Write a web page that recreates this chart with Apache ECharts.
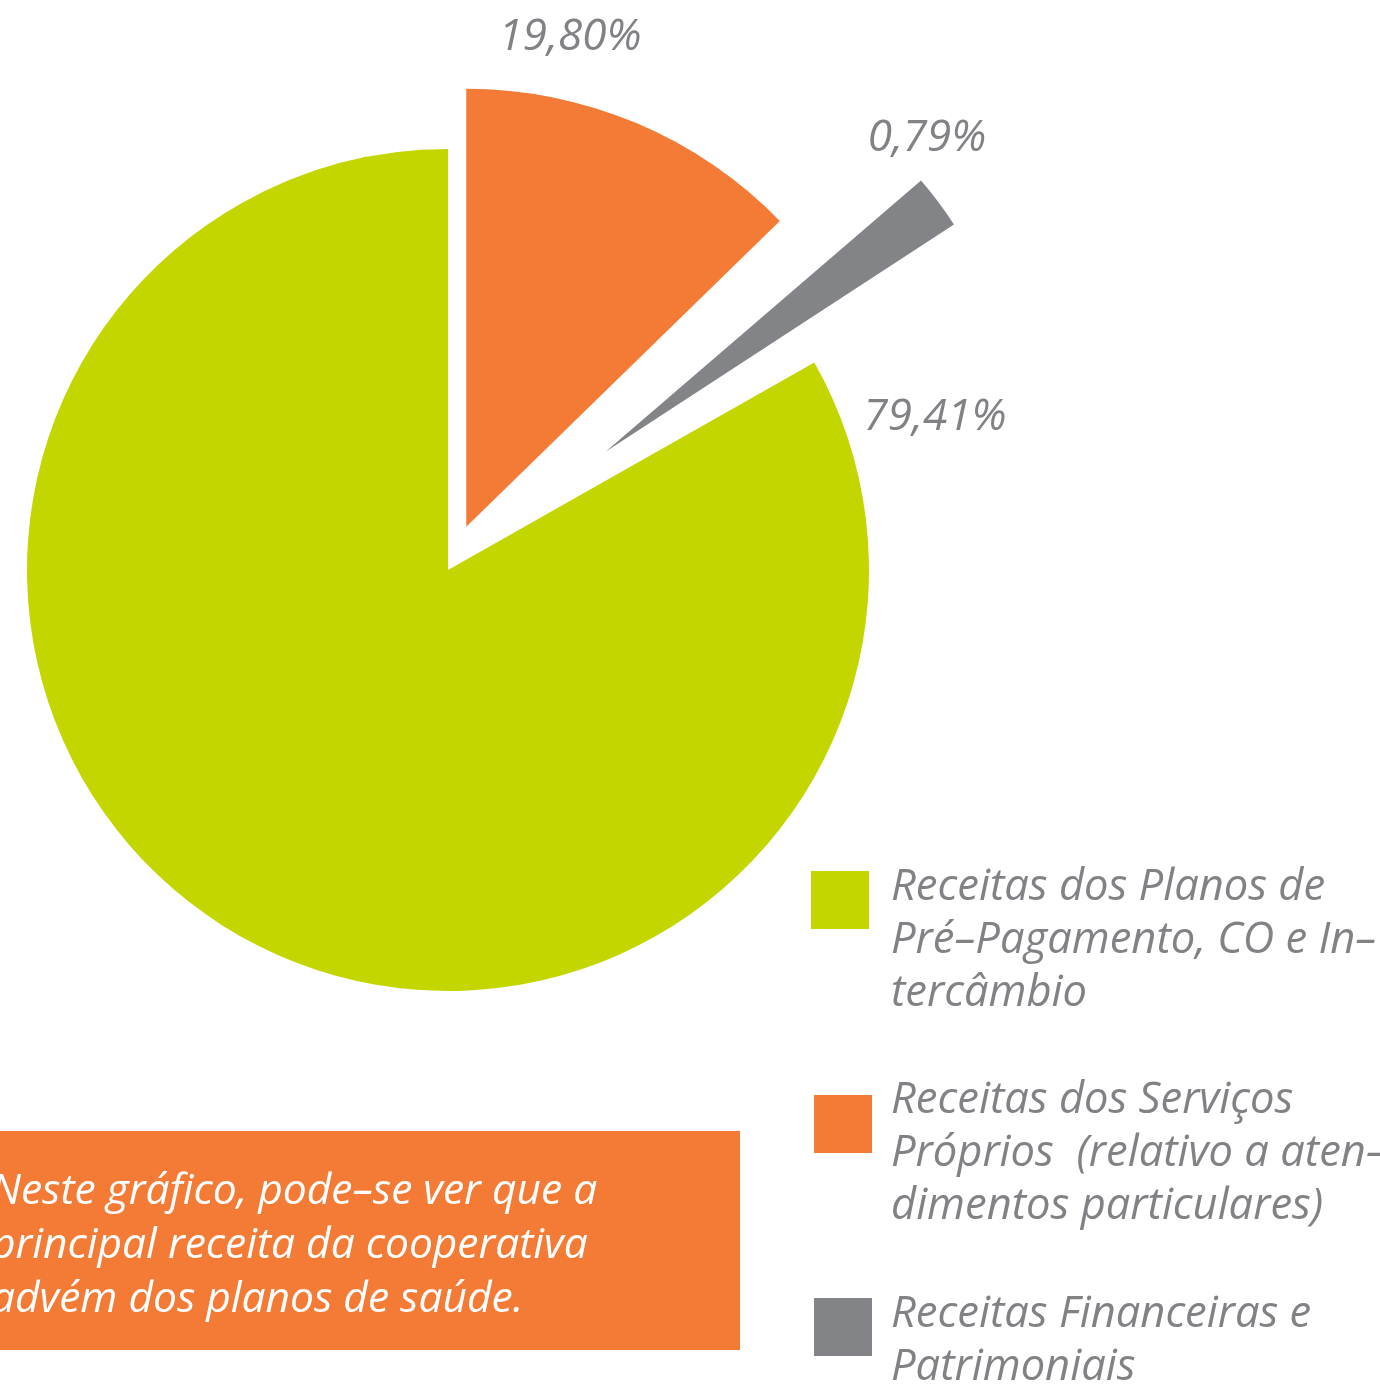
<!DOCTYPE html>
<html>
<head>
<meta charset="utf-8">
<script src="https://cdn.jsdelivr.net/npm/echarts@6/dist/echarts.min.js"></script>
<style>
html, body { margin: 0; padding: 0; background: #fff; }
#chart { width: 1380px; height: 1385px; }
</style>
</head>
<body>
<div id="chart"></div>
<script>
var categories = [
  'Receitas dos Planos de Pré–Pagamento, CO e Intercâmbio',
  'Receitas dos Serviços Próprios (relativo a atendimentos particulares)',
  'Receitas Financeiras e Patrimoniais'
];
// legend text broken the same way as in the picture
var legendLines = [
  'Receitas dos Planos de\nPré–Pagamento, CO e In–\ntercâmbio',
  'Receitas dos Serviços\nPróprios  (relativo a aten–\ndimentos particulares)',
  'Receitas Financeiras e\nPatrimoniais'
];
var pctLabels = ['79,41%', '19,80%', '0,79%'];
// share of the circle each wedge takes in the drawing (wedges are not drawn to the printed %)
var drawnShare = [83.2, 12.7, 2.1];
var gapShare = 1.0;   // blank wedge each side of the small slice
var colors = ['#c4d600', '#f47b35', '#838488'];
var note = 'Neste gráfico, pode–se ver que a\nprincipal receita da cooperativa\nadvém dos planos de saúde.';

var myChart = echarts.init(document.getElementById('chart'));

// clockwise from 12 o'clock: orange, gap, gray, gap, green
var order = [1, -1, 2, -1, 0];
var radii = [421, 438, 416];
var offsets = [0, 47, 197];

function pieData(visible) {
  return order.map(function (k, i) {
    if (k < 0) {
      return { name: 'gap' + i, value: gapShare, itemStyle: { color: 'rgba(0,0,0,0)' } };
    }
    var show = k === visible;
    return {
      name: categories[k],
      value: drawnShare[k],
      selected: show && offsets[k] > 0,
      itemStyle: { color: show ? colors[k] : 'rgba(0,0,0,0)' },
      select: { itemStyle: { color: show ? colors[k] : 'rgba(0,0,0,0)' } }
    };
  });
}

var series = [0, 1, 2].map(function (k) {
  return {
    type: 'pie',
    center: [448, 570],
    radius: radii[k],
    startAngle: 90,
    clockwise: true,
    selectedMode: 'multiple',
    selectedOffset: offsets[k],
    silent: true,
    animation: false,
    itemStyle: { borderWidth: 0 },
    label: { show: false },
    labelLine: { show: false },
    emphasis: { disabled: true },
    data: pieData(k)
  };
});

var textGray = '#818286';
var labelPos = [[935, 417], [570, 37], [927, 138]];
var squares = [[811, 871], [814, 1095], [814, 1298]];
var legendTop = [861, 1074, 1288];

var elements = [];
// percentage labels
pctLabels.forEach(function (t, k) {
  elements.push({
    type: 'text', x: labelPos[k][0], y: labelPos[k][1],
    style: {
      text: t, fill: textGray, fontSize: 44, fontStyle: 'italic',
      fontFamily: 'Open Sans', align: 'center', verticalAlign: 'middle'
    }
  });
});
// legend
legendLines.forEach(function (t, k) {
  elements.push({
    type: 'rect',
    shape: { x: squares[k][0], y: squares[k][1], width: 58, height: 58 },
    style: { fill: colors[k] }
  });
  elements.push({
    type: 'text', x: 891, y: legendTop[k],
    style: {
      text: t, fill: textGray, fontSize: 43.5, fontStyle: 'italic',
      fontFamily: 'Open Sans', lineHeight: 53, align: 'left', verticalAlign: 'top'
    }
  });
});
// note box
elements.push({
  type: 'rect',
  shape: { x: 0, y: 1131, width: 740, height: 219 },
  style: { fill: '#f47b35' }
});
elements.push({
  type: 'text', x: -9, y: 1165,
  style: {
    text: note, fill: '#ffffff', fontSize: 42.5, fontStyle: 'italic',
    fontFamily: 'Open Sans', lineHeight: 54, align: 'left', verticalAlign: 'top'
  }
});

var option = {
  backgroundColor: '#ffffff',
  series: series,
  graphic: { elements: elements }
};
myChart.setOption(option);
</script>
</body>
</html>
